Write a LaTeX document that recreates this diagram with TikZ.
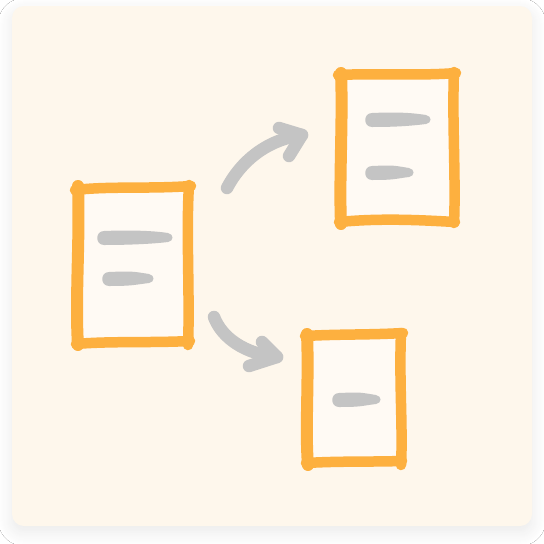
\documentclass[tikz,border=0pt]{standalone}
\usetikzlibrary{shadows.blur}
\definecolor{paper}{HTML}{FEF7EC}
\definecolor{inner}{HTML}{FFFAF4}
\definecolor{marker}{HTML}{FDB03F}
\definecolor{pencil}{HTML}{C4C4C4}
\tikzset{
  stroke/.style={draw=marker, line width=10.5pt, line cap=round, line join=round},
  arrowstroke/.style={draw=pencil, line width=12.5pt, line cap=round, line join=round},
  sheet/.style={fill=inner, draw=none, inner sep=0pt, outer sep=0pt},
  barfill/.style={fill=pencil}
}
% tapered pencil dash: left x, right x, centre y
\newcommand\graybar[3]{%
  \fill[barfill] ({#1+7},{#3-7}) .. controls ({#1+30},{#3-8}) and ({#2-20},{#3-7.5}) .. ({#2-4},{#3-5})
    .. controls ({#2+2},{#3-4}) and ({#2+2},{#3+3}) .. ({#2-4},{#3+4})
    .. controls ({#2-20},{#3+6}) and ({#1+30},{#3+7}) .. ({#1+7},{#3+7})
    .. controls ({#1-2},{#3+7}) and ({#1-2},{#3-7}) .. ({#1+7},{#3-7}) -- cycle;}
\begin{document}
\begin{tikzpicture}[x=1pt,y=-1pt]
  \fill[white] (0,0) rectangle (544,544);
  \useasboundingbox (0,0) rectangle (544,544);
  % card
  \fill[paper, rounded corners=12pt,
        blur shadow={shadow xshift=0pt, shadow yshift=-6pt, shadow blur radius=14pt, shadow blur steps=14, shadow opacity=9}]
        (12,6) rectangle (532,526);

  % sheet interiors
  \node[sheet, minimum width=109pt, minimum height=154pt] (src) at (133.5,266) {};
  \node[sheet, minimum width=113pt, minimum height=145pt] (up) at (397.5,148.5) {};
  \node[sheet, minimum width=94pt, minimum height=127pt] (down) at (354,399.5) {};

  % source sheet outline
  \draw[stroke] (75,190) .. controls (110,186) and (150,189) .. (191,186);
  \draw[stroke] (189,185) .. controls (186,230) and (190,300) .. (188,345);
  \draw[stroke] (76,344) .. controls (110,341) and (150,343) .. (190,341);
  \draw[stroke, line width=12pt] (78,186) .. controls (80,240) and (75,300) .. (78,345);
  \graybar{97}{172}{238}
  \graybar{102}{153}{279}

  % upper sheet outline
  \draw[stroke] (338,75) .. controls (380,73) and (420,76) .. (456,73);
  \draw[stroke] (454,72) .. controls (452,120) and (456,180) .. (454,223);
  \draw[stroke] (339,222) .. controls (380,218) and (420,220) .. (455,222);
  \draw[stroke, line width=12pt] (341,73) .. controls (343,120) and (339,180) .. (341,224);
  \graybar{365}{430}{120}
  \graybar{365}{413}{173}

  % lower sheet outline
  \draw[stroke] (305,336) .. controls (340,334) and (370,335) .. (403,333);
  \draw[stroke] (401,333) .. controls (399,380) and (403,430) .. (401,465);
  \draw[stroke] (306,463) .. controls (340,461) and (370,462) .. (402,461);
  \draw[stroke, line width=12pt] (307,334) .. controls (309,380) and (305,430) .. (308,465);
  \graybar{332}{380}{400}

  % connectors
  \coordinate (a1s) at (227,188);
  \coordinate (a1e) at (302,135);
  \coordinate (a2s) at (214,317);
  \coordinate (a2e) at (277,357);
  \draw[arrowstroke] (a1s) .. controls (240,163) and (265,140) .. (a1e);
  \draw[arrowstroke] (279,128) -- (a1e) -- (289,156);
  \draw[arrowstroke] (a2s) .. controls (222,338) and (245,354) .. (a2e);
  \draw[arrowstroke] (262,342) -- (a2e) -- (249,366);
\end{tikzpicture}
\end{document}
